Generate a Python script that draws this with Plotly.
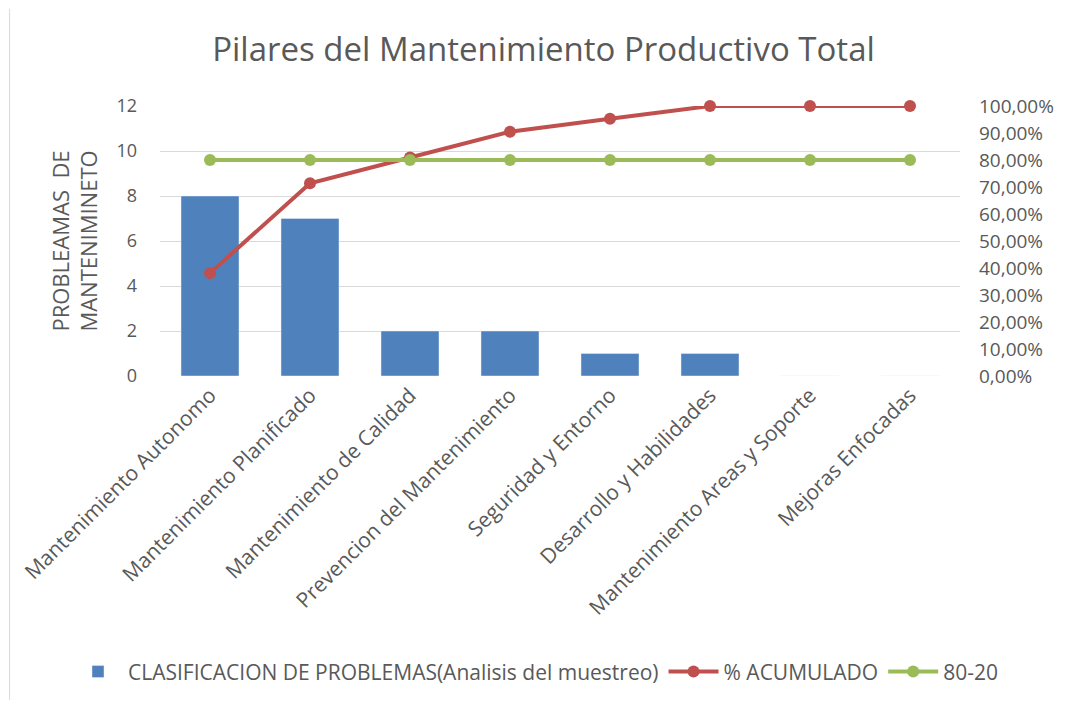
import plotly.graph_objects as go

# -----------------------
# Data
# -----------------------
pilares = ["Mantenimiento Autonomo", "Mantenimiento Planificado", "Mantenimiento de Calidad",
           "Prevencion del Mantenimiento", "Seguridad y Entorno", "Desarrollo y Habilidades",
           "Mantenimiento Areas y Soporte", "Mejoras Enfocadas"]
problemas = [8, 7, 2, 2, 1, 1, 0, 0]
acumulado = [0.381, 0.714, 0.8095, 0.9048, 0.9524, 1.0, 1.0, 1.0]
linea_80_20 = [0.8] * 8

gris = "#595959"
fuente = "'Open Sans', sans-serif"

fig = go.Figure()

fig.add_trace(go.Bar(
    x=pilares, y=problemas,
    name="CLASIFICACION DE PROBLEMAS(Analisis del muestreo)",
    marker_color="#4F81BD"
))

fig.add_trace(go.Scatter(
    x=pilares, y=acumulado, yaxis="y2",
    mode="lines+markers", name="% ACUMULADO", cliponaxis=False,
    line=dict(color="#C0504D", width=4),
    marker=dict(size=12, color="#C0504D")
))

fig.add_trace(go.Scatter(
    x=pilares, y=linea_80_20, yaxis="y2",
    mode="lines+markers", name="80-20", cliponaxis=False,
    line=dict(color="#9BBB59", width=4),
    marker=dict(size=12, color="#9BBB59")
))

# the page adds an 8px body margin, so the figure is a bit smaller and shifted
fig.update_layout(
    width=1071, height=698,
    margin=dict(l=152, r=119, t=98, b=330, autoexpand=False),
    paper_bgcolor="white", plot_bgcolor="white",
    separators=",.",
    font=dict(family=fuente, color=gris, size=16),
    title=dict(text="Pilares del Mantenimiento Productivo Total",
               x=0.5, xanchor="center", y=0.94, yanchor="middle",
               font=dict(size=33, color=gris)),
    bargap=0.42,
    xaxis=dict(tickangle=-45, showgrid=False, showline=False, ticks="",
               tickfont=dict(size=21), ticklabelstandoff=2),
    yaxis=dict(range=[0, 12], dtick=2, gridcolor="#D9D9D9", zeroline=False,
               showline=False, tickfont=dict(size=18), ticklabelstandoff=22,
               title=dict(text="PROBLEAMAS  DE<br>MANTENIMINETO",
                          font=dict(size=22), standoff=12)),
    yaxis2=dict(range=[0, 1], dtick=0.1, tickformat=".2%", overlaying="y",
                side="right", showgrid=False, zeroline=False, showline=False,
                tickfont=dict(size=19), ticklabelstandoff=18),
    legend=dict(orientation="h", x=-0.115, xanchor="left", y=-1.096, yanchor="middle",
                font=dict(size=21), traceorder="normal", itemwidth=50),
    shapes=[dict(type="line", xref="paper", yref="paper", x0=-0.188, x1=-0.188,
                 y0=-1.2, y1=1.36, line=dict(color="#D9D9D9", width=1))]
)

fig.write_html("out.html")
